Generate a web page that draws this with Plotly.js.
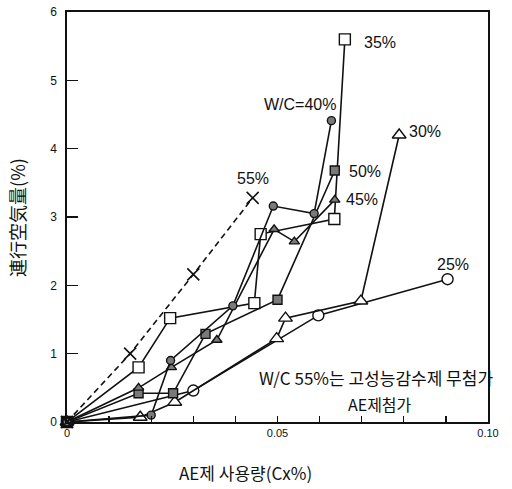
<!DOCTYPE html>
<html>
<head>
<meta charset="utf-8">
<script src="https://cdn.plot.ly/plotly-3.0.1.min.js"></script>
<style>html,body{margin:0;padding:0;background:#fff;}#chart{width:512px;height:489px;}</style>
</head>
<body>
<div id="chart"></div>
<script>
// W/C = 55% (no superplasticizer) - x markers, dashed
const wc55X = [0, 0.015, 0.030, 0.0441];
const wc55Y = [0, 1.00, 2.16, 3.28];
// W/C = 35% - open squares
const wc35X = [0, 0.017, 0.0245, 0.0445, 0.046, 0.0635, 0.066];
const wc35Y = [0, 0.80, 1.52, 1.74, 2.75, 2.97, 5.60];
// W/C = 40% - filled circles
const wc40X = [0, 0.0200, 0.0246, 0.0394, 0.0490, 0.0587, 0.0628];
const wc40Y = [0, 0.10, 0.90, 1.70, 3.16, 3.05, 4.41];
// W/C = 50% - filled squares
const wc50X = [0, 0.017, 0.0252, 0.0329, 0.0500, 0.0636];
const wc50Y = [0, 0.42, 0.42, 1.29, 1.79, 3.68];
// W/C = 45% - filled triangles
const wc45X = [0, 0.017, 0.0248, 0.0356, 0.0492, 0.0540, 0.0636];
const wc45Y = [0, 0.50, 0.80, 1.20, 2.82, 2.64, 3.25];
// W/C = 30% - open triangles
const wc30X = [0, 0.0174, 0.0256, 0.0498, 0.0519, 0.0698, 0.0789];
const wc30Y = [0, 0.07, 0.29, 1.22, 1.52, 1.77, 4.20];
// W/C = 25% - open circles
const wc25X = [0, 0.030, 0.0597, 0.0904];
const wc25Y = [0, 0.46, 1.56, 2.09];

const xTickVals = [0, 0.05, 0.10];
const xTickText = ['0', '0.05', '0.10'];
const yTickVals = [0, 1, 2, 3, 4, 5, 6];

const seriesLabels = [
  {text: '35%', x: 0.0743, y: 5.56},
  {text: 'W/C=40%', x: 0.0553, y: 4.64},
  {text: '30%', x: 0.0850, y: 4.25},
  {text: '50%', x: 0.0708, y: 3.66},
  {text: '45%', x: 0.0700, y: 3.25},
  {text: '55%', x: 0.0442, y: 3.56},
  {text: '25%', x: 0.0917, y: 2.31}
];

const GRAY = '#7a7a7a';
function tr(x, y, name, symbol, fill, size, dash) {
  return {
    x: x, y: y, name: name, type: 'scatter', mode: 'lines+markers',
    line: {color: '#111', width: 1.6, dash: dash || 'solid'},
    marker: {symbol: symbol, size: size, color: fill, line: {color: '#111', width: 1.4}},
    cliponaxis: false
  };
}

const data = [
  tr(wc25X, wc25Y, '25%', 'circle', '#fff', 11),
  tr(wc30X, wc30Y, '30%', 'triangle-up', '#fff', 12),
  tr(wc35X, wc35Y, '35%', 'square', '#fff', 11),
  tr(wc50X, wc50Y, '50%', 'square', GRAY, 9),
  tr(wc45X, wc45Y, '45%', 'triangle-up', GRAY, 9),
  tr(wc40X, wc40Y, '40%', 'circle', GRAY, 8),
  {x: wc55X, y: wc55Y, name: '55%', type: 'scatter', mode: 'lines+markers',
   line: {color: '#111', width: 1.6, dash: '6px,4px'},
   marker: {symbol: 'x-thin-open', size: 12, color: '#111', line: {color: '#111', width: 1.6}},
   cliponaxis: false}
];

const latin = 'Liberation Sans, DejaVu Sans, sans-serif';
const kr = 'Noto Sans CJK KR, sans-serif';

const annotations = seriesLabels.map(s => ({
  text: s.text, x: s.x, y: s.y, xref: 'x', yref: 'y', showarrow: false,
  font: {family: latin, size: 16, color: '#111'}
}));
annotations.push(
  {text: 'W/C 55%는 고성능감수제 무첨가', x: 0.0735, y: 0.655, xref: 'x', yref: 'y',
   xanchor: 'center', yanchor: 'middle',
   showarrow: false, font: {family: kr, size: 17, color: '#111'}},
  {text: 'AE제첨가', x: 0.0743, y: 0.27, xref: 'x', yref: 'y',
   xanchor: 'center', yanchor: 'middle',
   showarrow: false, font: {family: kr, size: 16, color: '#111'}},
  {text: 'AE제 사용량(Cx%)', x: 0.423, y: -0.124, xref: 'paper', yref: 'paper', showarrow: false,
   xanchor: 'center', yanchor: 'middle',
   font: {family: kr, size: 17, color: '#111'}},
  {text: '連行空気量(%)', x: -0.119, y: 0.50, xref: 'paper', yref: 'paper', showarrow: false,
   xanchor: 'center', yanchor: 'middle',
   textangle: -90, font: {family: 'Noto Sans CJK JP, sans-serif', size: 18, color: '#111'}}
);

const layout = {
  width: 512, height: 489,
  margin: {l: 67, r: 24, t: 12, b: 67},
  paper_bgcolor: '#fff', plot_bgcolor: '#fff',
  showlegend: false,
  xaxis: {
    range: [0, 0.10], tickmode: 'array', tickvals: xTickVals, ticktext: xTickText,
    ticks: 'inside', ticklen: 6, tickwidth: 1.3, tickcolor: '#111',
    minor: {dtick: 0.01, tick0: 0, ticks: 'inside', ticklen: 6, tickwidth: 1.3, tickcolor: '#111'},
    showline: true, linecolor: '#111', linewidth: 1.6, mirror: true,
    showgrid: false, zeroline: false,
    tickfont: {family: 'Liberation Sans Narrow, Liberation Sans, sans-serif', size: 11, color: '#111'}
  },
  yaxis: {
    range: [0, 6], tickmode: 'array', tickvals: yTickVals,
    ticks: 'inside', ticklen: 11, tickwidth: 1.4, tickcolor: '#111',
    showline: true, linecolor: '#111', linewidth: 1.6, mirror: true,
    showgrid: false, zeroline: false, ticklabelstandoff: 6,
    tickfont: {family: 'Liberation Sans Narrow, Liberation Sans, sans-serif', size: 12, color: '#111'}
  },
  annotations: annotations
};

Plotly.newPlot('chart', data, layout, {displayModeBar: false, staticPlot: true});
</script>
</body>
</html>
